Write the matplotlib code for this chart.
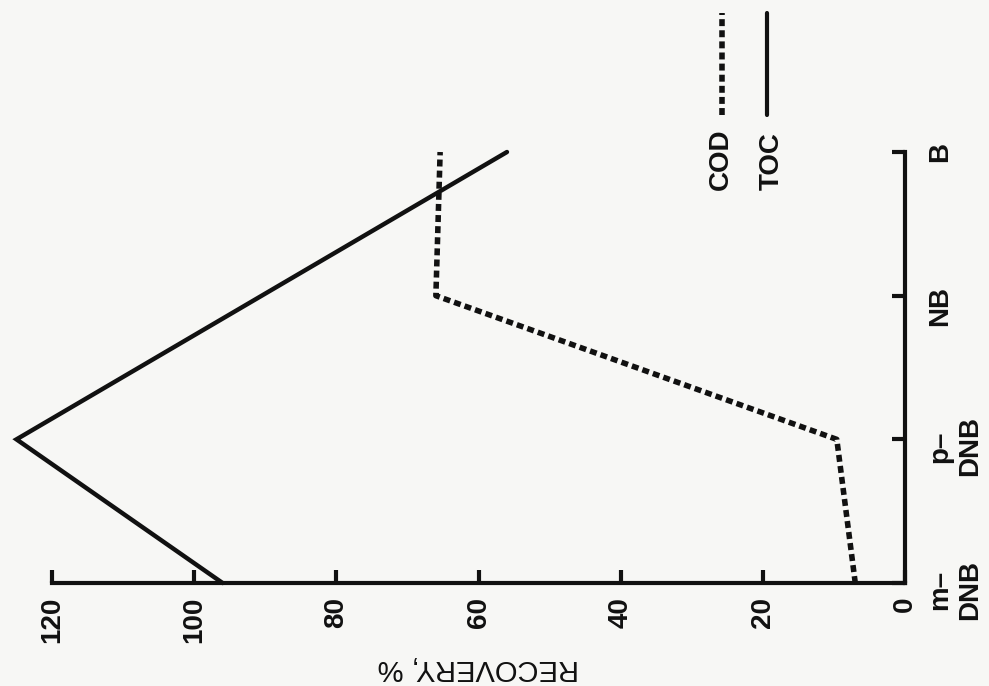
#!/usr/bin/env python
# -*- coding: utf-8 -*-

import matplotlib
matplotlib.use("Agg")
import matplotlib.pyplot as plt

# recovery data (figure is drawn turned a quarter turn, like the scanned page)
compounds = ["m–\nDNB", "p–\nDNB", "NB", "B"]
toc = [96, 125, 90.5, 56]
cod = [7, 9.6, 66, 65.4]
value_ticks = [0, 20, 40, 60, 80, 100, 120]
legend_names = ["COD", "TOC"]

ink = "#111111"
paper = "#f7f7f5"
dotted = (0, (1.25, 0.75))

plt.rcParams['font.family'] = ['Liberation Sans', 'DejaVu Sans']
plt.rcParams['font.weight'] = 'bold'

fig = plt.figure(figsize=(9.89, 6.86), dpi=100, facecolor=paper)
ax = fig.add_axes([0.0526, 0.1501, 0.8625, 0.6283])
ax.set_facecolor(paper)

pos = list(range(len(compounds)))

# values run along x (right to left), compounds along y (bottom to top)
ax.plot(toc, pos, color=ink, lw=3.2, solid_joinstyle='miter',
        solid_capstyle='round', clip_on=False)
ax.plot(cod, pos, color=ink, lw=4.0, linestyle=dotted,
        dash_capstyle='butt', clip_on=False)

ax.set_xlim(120, 0)
ax.set_ylim(0, len(compounds) - 1)

for side in ['top', 'left']:
    ax.spines[side].set_visible(False)
for side in ['bottom', 'right']:
    ax.spines[side].set_linewidth(3.0)
    ax.spines[side].set_color(ink)
    ax.spines[side].set_capstyle('projecting')

ax.set_xticks(value_ticks)
ax.set_xticklabels([str(v) for v in value_ticks], rotation=90)
ax.set_yticks(pos)
ax.set_yticklabels(compounds, rotation=90, multialignment='center')

ax.yaxis.tick_right()
ax.tick_params(axis='x', direction='in', length=9.5, width=3.0, color=ink,
               labelsize=20, labelcolor=ink, pad=10)
ax.tick_params(axis='y', direction='in', length=9.5, width=3.0, color=ink,
               labelsize=20, labelcolor=ink, pad=16, right=True, left=False)

ax.set_xlabel("RECOVERY, %", rotation=180, fontsize=21, color=ink,
              labelpad=8)

# hand-made legend, turned like the rest
styles = [dict(lw=4.0, linestyle=dotted, dash_capstyle='butt'),
          dict(lw=3.0, solid_capstyle='round')]
text_x = [0.784, 0.844]
line_x = [0.785, 0.838]
for name, st, tx, lx in zip(legend_names, styles, text_x, line_x):
    ax.text(tx, 0.912, name, transform=ax.transAxes, rotation=90,
            ha='center', va='bottom', fontsize=20, color=ink)
    ax.plot([lx, lx], [1.086, 1.322], transform=ax.transAxes, color=ink,
            clip_on=False, **st)

fig.savefig("out.png", dpi=100, facecolor=paper)
plt.close(fig)
